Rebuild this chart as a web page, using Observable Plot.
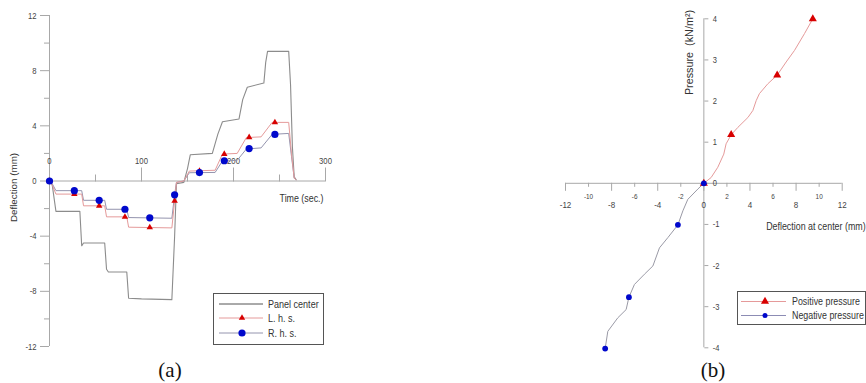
<!DOCTYPE html>
<html>
<head>
<meta charset="utf-8">
<script src="https://cdn.jsdelivr.net/npm/d3@7"></script>
<script src="https://cdn.jsdelivr.net/npm/@observablehq/plot@0.6"></script>
<style>
  html, body { margin: 0; padding: 0; background: #fff; overflow: hidden; }
  #fig { position: relative; width: 866px; height: 383px; font-family: "Liberation Sans", Arial, sans-serif; }
  #fig svg.panel { position: absolute; top: 0; overflow: visible; }
  .legend { position: absolute; border: 1px solid #555; background: #fff; box-sizing: border-box; }
  .legend svg { position: absolute; left: 0; top: 0; overflow: visible; }
  .caption { position: absolute; font-family: "Liberation Serif", "Times New Roman", serif; font-size: 21px; color: #111; transform: translate(-50%, -50%); }
</style>
</head>
<body>
<div id="fig"></div>
<script>
// ---- (a) deflection history ----
const timeCenter = [0, 3, 7, 33, 35, 37, 60, 62, 64, 84, 86, 100, 133, 136, 138, 146, 150, 153, 177, 183, 188, 206, 210, 215, 233, 235, 237, 260, 262, 264, 266, 268];
const defCenter  = [0, -0.3, -2.2, -2.2, -4.7, -4.5, -4.5, -6.4, -6.6, -6.6, -8.5, -8.55, -8.6, -4.0, -0.2, -0.1, 0.9, 1.9, 2.0, 3.4, 4.3, 4.5, 5.9, 6.8, 7.1, 8.6, 9.4, 9.4, 7.0, 2.5, 0.3, 0.1];

const timeLeft = [0, 3, 7, 35, 37, 60, 62, 84, 86, 133, 136, 138, 146, 152, 180, 188, 204, 214, 230, 242, 260, 263, 266, 268];
const defLeft  = [0, -0.3, -0.95, -0.95, -1.8, -1.8, -2.6, -2.6, -3.35, -3.4, -1.45, -0.1, 0, 0.72, 0.78, 1.95, 2.0, 3.15, 3.2, 4.25, 4.25, 2.0, 0.2, 0.1];

const timeRight = [0, 3, 7, 35, 37, 60, 62, 84, 86, 133, 136, 138, 146, 152, 180, 188, 204, 214, 230, 242, 260, 263, 266, 268];
const defRight  = [0, -0.2, -0.7, -0.7, -1.4, -1.4, -2.05, -2.05, -2.65, -2.7, -1.0, -0.1, 0, 0.6, 0.62, 1.45, 1.5, 2.32, 2.4, 3.38, 3.45, 1.8, 0.2, 0.1];

const markerTime   = [0, 27, 54, 82, 109, 136, 163, 190, 217, 245];
const leftMarkers  = [0, -0.95, -1.8, -2.6, -3.37, -1.45, 0.72, 1.95, 3.17, 4.25];
const rightMarkers = [0, -0.7, -1.4, -2.05, -2.67, -1.0, 0.61, 1.47, 2.35, 3.38];

const seriesA = ["Panel center", "L. h. s.", "R. h. s."];
const timeTicks = [0, 100, 200, 300];
const timeMinor = [50, 150, 250];
const deflTicks = [-12, -8, -4, 0, 4, 8, 12];
const deflMinor = [-10, -6, -2, 2, 6, 10];

// ---- (b) pressure vs. central deflection ----
const posDefl  = [0, 0.63, 1.21, 1.73, 1.93, 2.37, 2.95, 3.82, 4.25, 4.54, 4.82, 5.55, 6.36, 7.14, 7.86, 8.73, 9.45];
const posPress = [0, 0.14, 0.39, 0.71, 0.96, 1.18, 1.36, 1.6, 1.77, 2.01, 2.18, 2.42, 2.63, 2.95, 3.23, 3.64, 4.0];
const negDefl  = [0, -0.52, -1.39, -1.82, -2.25, -3.12, -3.85, -4.42, -5.15, -6.02, -6.5, -6.74, -7.46, -8.33, -8.56];
const negPress = [0, -0.14, -0.39, -0.67, -1.01, -1.32, -1.57, -2.01, -2.21, -2.46, -2.77, -3.07, -3.27, -3.6, -4.02];
const posMarkDefl  = [0, 2.37, 6.36, 9.45];
const posMarkPress = [0, 1.18, 2.63, 4.0];
const negMarkDefl  = [0, -2.25, -6.5, -8.56];
const negMarkPress = [0, -1.01, -2.77, -4.02];

const seriesB = ["Positive pressure", "Negative pressure"];
const centerMajor = [-12, -8, -4, 0, 4, 8, 12];
const centerMinor = [-10, -6, -2, 2, 6, 10];
const pressTicks = [-4, -3, -2, -1, 0, 1, 2, 3, 4];

// colours
const grayLine = "#8c8c8c";
const pinkLine = "#e59a9a";
const blueLine = "#9494ae";
const redMark = "#d80000";
const blueMark = "#0008cc";
const axisGray = "#a8a8a8";

const zip = (xs, ys) => xs.map((x, i) => ({x, y: ys[i]}));
const fig = document.getElementById("fig");
const font = "Liberation Sans, Arial, sans-serif";
const plain = d => String(d);   // hyphen-minus, as in the original figure
const noLabel = () => "";
const NARROW = 0.82;            // horizontal condensing of the horizontal labels

// condense horizontal (non-rotated) text to a narrow sans look
function condense(root, factor) {
  root.querySelectorAll("text").forEach(t => {
    const tr = (t.getAttribute("transform") || "") + ((t.parentNode && t.parentNode.getAttribute && t.parentNode.getAttribute("transform")) || "");
    if (tr.includes("rotate")) return;
    const len = t.getComputedTextLength();
    if (len > 0) {
      t.setAttribute("textLength", (len * factor).toFixed(2));
      t.setAttribute("lengthAdjust", "spacingAndGlyphs");
    }
  });
}

// ---------- panel (a) ----------
const A = {width: 340, height: 355, left: 49, right: 15, top: 15, bottom: 9};
const aZeroShift = (A.height - A.top - A.bottom) / 2; // frame top -> y = 0

const plotA = Plot.plot({
  width: A.width, height: A.height,
  marginLeft: A.left, marginRight: A.right, marginTop: A.top, marginBottom: A.bottom,
  x: {domain: [0, 300]},
  y: {domain: [-12, 12]},
  style: {background: "transparent", fontFamily: font, fontSize: "9.4px", color: "#444"},
  marks: [
    Plot.ruleX([0], {stroke: axisGray}),
    Plot.ruleY([0], {stroke: axisGray}),
    Plot.axisY(deflTicks, {anchor: "left", tickSize: 9, tickPadding: 4, tickFormat: plain, stroke: axisGray, label: null}),
    Plot.axisY(deflMinor, {anchor: "left", tickSize: 5, tickFormat: noLabel, stroke: axisGray, label: null}),
    Plot.axisX(timeTicks, {anchor: "top", tickSize: 14, tickPadding: 3, tickFormat: plain, dy: aZeroShift, stroke: axisGray, label: null}),
    Plot.axisX(timeMinor, {anchor: "top", tickSize: 7, tickFormat: noLabel, dy: aZeroShift, stroke: axisGray, label: null}),
    Plot.line(zip(timeCenter, defCenter), {x: "x", y: "y", stroke: grayLine, strokeWidth: 1.1}),
    Plot.line(zip(timeRight, defRight), {x: "x", y: "y", stroke: blueLine, strokeWidth: 1}),
    Plot.line(zip(timeLeft, defLeft), {x: "x", y: "y", stroke: pinkLine, strokeWidth: 1}),
    Plot.dot(zip(markerTime, leftMarkers), {x: "x", y: "y", symbol: "triangle", r: 2.4, fill: redMark, stroke: null}),
    Plot.dot(zip(markerTime, rightMarkers), {x: "x", y: "y", symbol: "circle", r: 3.6, fill: blueMark, stroke: null}),
    Plot.text(["Time (sec.)"], {frameAnchor: "right", textAnchor: "end", dx: -2, dy: 17.5, fontSize: 10.8, fill: "#333"}),
    Plot.text(["Deflection (mm)"], {frameAnchor: "left", textAnchor: "middle", lineAnchor: "middle", rotate: -90, dx: -36, dy: 6.5, fontSize: 9.8, fill: "#333"})
  ]
});
plotA.classList.add("panel");
plotA.style.left = "0px";
fig.appendChild(plotA);

// ---------- panel (b) ----------
const B = {x0: 540, width: 326, height: 355, left: 25, right: 24.3, top: 18.3, bottom: 7.7};
const bInnerW = B.width - B.left - B.right;
const bInnerH = B.height - B.top - B.bottom;

const plotB = Plot.plot({
  width: B.width, height: B.height,
  marginLeft: B.left, marginRight: B.right, marginTop: B.top, marginBottom: B.bottom,
  x: {domain: [-12, 12]},
  y: {domain: [-4, 4]},
  style: {background: "transparent", fontFamily: font, fontSize: "10px", color: "#444"},
  marks: [
    Plot.ruleX([0], {stroke: axisGray}),
    Plot.ruleY([0], {stroke: axisGray}),
    Plot.axisX(centerMajor, {anchor: "bottom", tickSize: 8, tickPadding: 10, tickFormat: plain, dy: -bInnerH / 2, stroke: axisGray, fontSize: 9.8, label: null}),
    Plot.axisX(centerMinor, {anchor: "bottom", tickSize: 4, tickPadding: 6, tickFormat: plain, dy: -bInnerH / 2, stroke: axisGray, fontSize: 7.8, label: null}),
    Plot.axisY(pressTicks, {anchor: "right", tickSize: 4, tickPadding: 5, tickFormat: plain, dx: -bInnerW / 2, stroke: axisGray, fontSize: 9.2, label: null}),
    Plot.line(zip(negDefl, negPress), {x: "x", y: "y", stroke: "#9a9aa6", strokeWidth: 1}),
    Plot.line(zip(posDefl, posPress), {x: "x", y: "y", stroke: pinkLine, strokeWidth: 1}),
    Plot.dot(zip(posMarkDefl, posMarkPress), {x: "x", y: "y", symbol: "triangle", r: 3, fill: redMark, stroke: null}),
    Plot.dot(zip(negMarkDefl, negMarkPress), {x: "x", y: "y", symbol: "circle", r: 2.9, fill: blueMark, stroke: null}),
    Plot.text(["Pressure  (kN/m²)"], {frameAnchor: "top", textAnchor: "middle", lineAnchor: "middle", rotate: -90, dx: -14.5, dy: 33.7, fontSize: 10.8, fill: "#333"}),
    Plot.text(["Deflection at center (mm)"], {frameAnchor: "left", textAnchor: "start", lineAnchor: "middle", dx: 200.7, dy: 43, fontSize: 10.8, fill: "#333"})
  ]
});
plotB.classList.add("panel");
plotB.style.left = B.x0 + "px";
fig.appendChild(plotB);

// ---------- legends ----------
function legend(box, rows) {
  const div = document.createElement("div");
  div.className = "legend";
  Object.assign(div.style, {left: box.x + "px", top: box.y + "px", width: box.w + "px", height: box.h + "px"});
  const ns = "http://www.w3.org/2000/svg";
  const svg = document.createElementNS(ns, "svg");
  svg.setAttribute("width", box.w);
  svg.setAttribute("height", box.h);
  rows.forEach((r, i) => {
    const y = box.rowY[i];
    const line = document.createElementNS(ns, "line");
    line.setAttribute("x1", box.lineX0); line.setAttribute("x2", box.lineX1);
    line.setAttribute("y1", y); line.setAttribute("y2", y);
    line.setAttribute("stroke", r.stroke); line.setAttribute("stroke-width", 1);
    svg.appendChild(line);
    if (r.symbol) {
      const p = document.createElementNS(ns, "path");
      p.setAttribute("d", d3.symbol(r.symbol === "triangle" ? d3.symbolTriangle : d3.symbolCircle, Math.PI * r.r * r.r)());
      p.setAttribute("transform", `translate(${box.markX},${y})`);
      p.setAttribute("fill", r.fill);
      svg.appendChild(p);
    }
    const t = document.createElementNS(ns, "text");
    t.setAttribute("x", box.textX); t.setAttribute("y", y);
    t.setAttribute("dy", "0.35em");
    t.setAttribute("font-size", box.fontSize);
    t.setAttribute("font-family", font);
    t.setAttribute("fill", "#333");
    t.textContent = r.name;
    svg.appendChild(t);
  });
  div.appendChild(svg);
  fig.appendChild(div);
  return svg;
}

const legA = legend({x: 213, y: 293, w: 111, h: 52, rowY: [10, 24, 39], lineX0: 5, lineX1: 49, markX: 28, textX: 54, fontSize: 11},
  [{name: seriesA[0], stroke: "#555"},
   {name: seriesA[1], stroke: pinkLine, symbol: "triangle", r: 2.4, fill: redMark},
   {name: seriesA[2], stroke: blueLine, symbol: "circle", r: 3.6, fill: blueMark}]);

const legB = legend({x: 737, y: 291, w: 129, h: 34, rowY: [9.5, 23.5], lineX0: 3, lineX1: 48, markX: 27, textX: 54, fontSize: 10.8},
  [{name: seriesB[0], stroke: pinkLine, symbol: "triangle", r: 3, fill: redMark},
   {name: seriesB[1], stroke: "#8c8cb4", symbol: "circle", r: 2.5, fill: blueMark}]);

[plotA, plotB, legA, legB].forEach(el => condense(el, NARROW));

// ---------- captions ----------
[["(a)", 170], ["(b)", 713]].forEach(([txt, x]) => {
  const c = document.createElement("div");
  c.className = "caption";
  c.textContent = txt;
  c.style.left = x + "px";
  c.style.top = "370px";
  fig.appendChild(c);
});
</script>
</body>
</html>
